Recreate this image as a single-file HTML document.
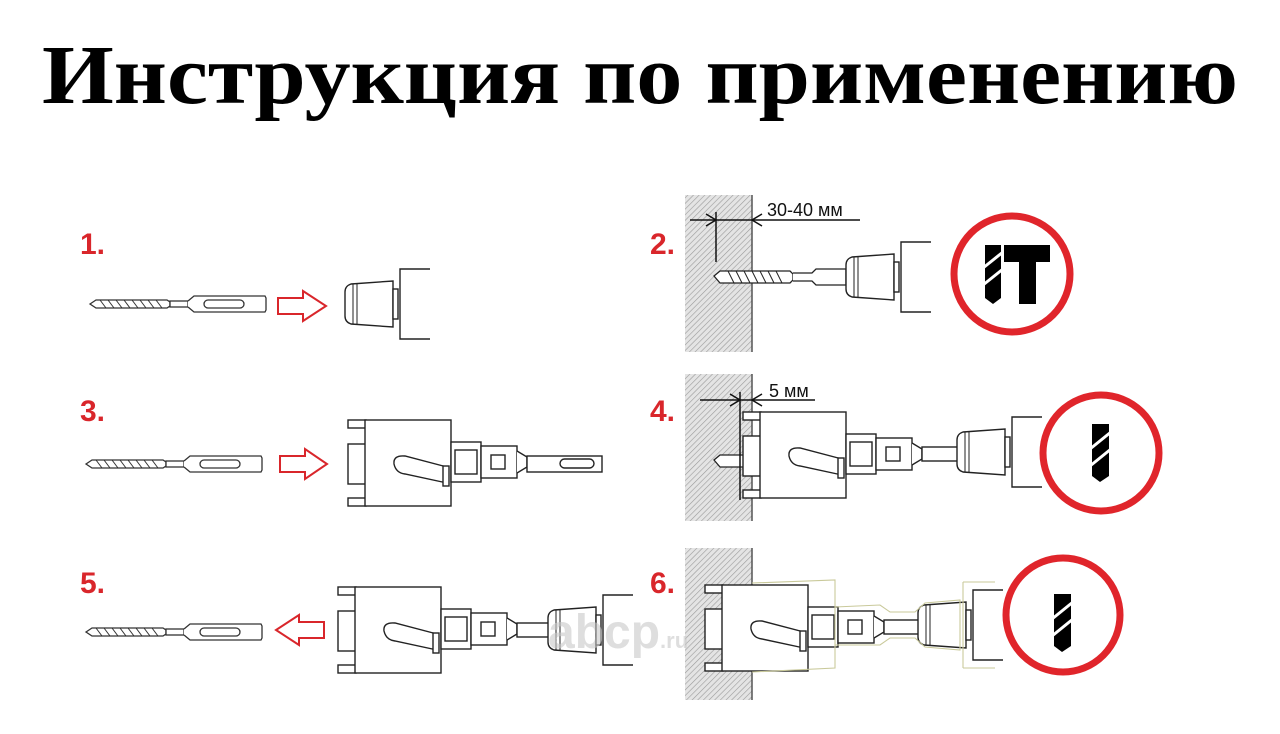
<!DOCTYPE html>
<html><head><meta charset="utf-8"><style>
html,body{margin:0;padding:0;background:#fff;width:1280px;height:734px;overflow:hidden}
</style></head><body>
<svg width="1280" height="734" viewBox="0 0 1280 734" xmlns="http://www.w3.org/2000/svg">
<defs>
<pattern id="h" width="4" height="4" patternUnits="userSpaceOnUse" patternTransform="rotate(45)">
<rect width="4" height="4" fill="#e4e4e4"/><line x1="0" y1="0" x2="0" y2="4" stroke="#9a9a9a" stroke-width="1.2"/>
</pattern>
<g id="drill" fill="#fff" stroke="#333" stroke-width="1.3">
<path d="M0,0 L6,-4 L77,-4 L80,-2 L80,2 L77,4 L6,4 Z"/>
<path d="M10,-4 L16,4 M18,-4 L24,4 M26,-4 L32,4 M34,-4 L40,4 M42,-4 L48,4 M50,-4 L56,4 M58,-4 L64,4 M66,-4 L72,4" stroke-width="1"/>
<rect x="80" y="-3" width="18" height="6"/>
<path d="M98,-3 L104,-8 L175,-8 L176,-6 L176,6 L175,8 L104,8 L98,3"/>
<rect x="114" y="-4" width="40" height="8" rx="4"/>
</g>
<g id="chuck" fill="#fff" stroke="#222" stroke-width="1.4">
<path d="M6,-20 L48,-23 L48,23 L6,20 Q0,18 0,12 L0,-12 Q0,-18 6,-20 Z"/>
<path d="M8,-20 L8,20 M12,-21 L12,21" stroke-width="1"/>
<rect x="48" y="-15" width="5" height="30"/>
<path d="M85,-35 L55,-35 L55,35 L85,35"/>
</g>
<g id="crown" fill="#fff" stroke="#222" stroke-width="1.4">
<rect x="-17" y="0" width="18" height="8"/>
<rect x="-17" y="78" width="18" height="8"/>
<rect x="-17" y="24" width="18" height="40"/>
<rect x="0" y="0" width="86" height="86"/>
<path d="M82,47 L40,36 Q28,35 29,44 Q31,53 40,54 L82,63"/>
<rect x="78" y="46" width="6" height="20"/>
<rect x="86" y="22" width="30" height="40"/>
<rect x="90" y="30" width="22" height="24"/>
<rect x="116" y="26" width="36" height="32"/>
<rect x="126" y="35" width="14" height="14"/>
<path d="M152,31 L162,37 L162,47 L152,53"/>
</g>
</defs>

<text x="640" y="103" text-anchor="middle" font-family="Liberation Serif, serif" font-weight="bold" font-size="84" textLength="1196" lengthAdjust="spacingAndGlyphs">Инструкция по применению</text>

<g font-family="Liberation Sans, sans-serif" font-size="30" font-weight="bold" fill="#d9262b">
<text x="80" y="254">1.</text><text x="650" y="254">2.</text>
<text x="80" y="421">3.</text><text x="650" y="421">4.</text>
<text x="80" y="593">5.</text><text x="650" y="593">6.</text>
</g>

<g fill="#fff" stroke="#d9262b" stroke-width="2">
<path d="M278,298 L303,298 L303,291 L326,306 L303,321 L303,314 L278,314 Z"/>
<path d="M280,456 L305,456 L305,449 L327,464 L305,479 L305,472 L280,472 Z"/>
<path d="M324,622 L299,622 L299,615 L276,630 L299,645 L299,638 L324,638 Z"/>
</g>

<use href="#drill" x="90" y="304"/>
<use href="#chuck" x="345" y="304"/>
<use href="#drill" x="86" y="464"/>
<use href="#crown" x="365" y="420"/>
<g fill="#fff" stroke="#222" stroke-width="1.4">
<rect x="527" y="456" width="75" height="16"/>
<rect x="560" y="459" width="34" height="9" rx="4.5"/>
</g>
<use href="#drill" x="86" y="632"/>
<use href="#crown" x="355" y="587"/>
<g fill="#fff" stroke="#222" stroke-width="1.4"><rect x="517" y="623" width="32" height="14"/></g>
<use href="#chuck" x="548" y="630"/>

<rect x="685" y="195" width="67" height="157" fill="url(#h)"/>
<line x1="752" y1="195" x2="752" y2="352" stroke="#555" stroke-width="1.5"/>
<rect x="685" y="374" width="67" height="147" fill="url(#h)"/>
<line x1="752" y1="374" x2="752" y2="521" stroke="#555" stroke-width="1.5"/>
<rect x="685" y="548" width="67" height="152" fill="url(#h)"/>
<line x1="752" y1="548" x2="752" y2="700" stroke="#555" stroke-width="1.5"/>

<g fill="#fff" stroke="#222" stroke-width="1.3">
<path d="M714,276 L720,271 L790,271 L793,274 L793,280 L790,283 L720,283 Z"/>
<path d="M728,271 L734,283 M736,271 L742,283 M744,271 L750,283 M752,271 L758,283 M760,271 L766,283 M768,271 L774,283 M776,271 L782,283" stroke-width="1"/>
<path d="M793,273 L812,273 L816,269 L846,269 L846,285 L816,285 L812,281 L793,281"/>
</g>
<use href="#chuck" x="846" y="277"/>
<g stroke="#111" stroke-width="1.5" fill="none">
<line x1="716" y1="212" x2="716" y2="262"/>
<line x1="690" y1="220" x2="860" y2="220"/>
<path d="M706,214 L716,220 L706,226 M762,214 L752,220 L762,226"/>
</g>
<text x="767" y="216" font-family="Liberation Sans, sans-serif" font-size="18" fill="#111">30-40 мм</text>

<g fill="#fff" stroke="#222" stroke-width="1.3">
<path d="M714,460 L720,455 L745,455 L745,467 L720,467 Z"/>
</g>
<use href="#crown" x="760" y="412"/>
<g fill="#fff" stroke="#222" stroke-width="1.4"><rect x="922" y="447" width="36" height="14"/></g>
<use href="#chuck" x="957" y="452"/>
<g stroke="#111" stroke-width="1.5" fill="none">
<line x1="740" y1="392" x2="740" y2="500"/>
<line x1="700" y1="400" x2="815" y2="400"/>
<path d="M730,394 L740,400 L730,406 M762,394 L752,400 L762,406"/>
</g>
<text x="769" y="397" font-family="Liberation Sans, sans-serif" font-size="18" fill="#111">5 мм</text>

<use href="#crown" x="722" y="585"/>
<g fill="#fff" stroke="#222" stroke-width="1.4"><rect x="884" y="620" width="36" height="14"/></g>
<use href="#chuck" x="918" y="625"/>
<g fill="none" stroke="#c9c99a" stroke-width="1.1">
<path d="M752,583 L835,580 L835,668 L752,672"/>
<path d="M835,607 L880,605 L890,612 L915,612 L925,603 L960,600 L960,650 L925,647 L915,638 L890,638 L880,645 L835,645"/>
<path d="M963,582 L995,582 M963,668 L995,668 M963,582 L963,668"/>
</g>

<text x="548" y="648" font-family="Liberation Sans, sans-serif" font-weight="bold" font-size="48" fill="#c8c8c8" fill-opacity="0.6">abcp<tspan font-size="22">.ru</tspan></text>

<g fill="none" stroke="#e0252b" stroke-width="7">
<circle cx="1012" cy="274" r="58"/>
<circle cx="1101" cy="453" r="58"/>
<circle cx="1063" cy="615" r="57"/>
</g>
<g fill="#000">
<path d="M985,245 L1001,245 L1001,298 L993,304 L985,298 Z"/>
<path d="M1004,245 L1050,245 L1050,262 L1036,262 L1036,304 L1019,304 L1019,262 L1004,262 Z"/>
<path d="M1092,424 L1109,424 L1109,476 L1100,482 L1092,476 Z"/>
<path d="M1054,594 L1071,594 L1071,646 L1062,652 L1054,646 Z"/>
</g>
<g stroke="#fff" stroke-width="3">
<line x1="983" y1="268" x2="1003" y2="252"/><line x1="983" y1="285" x2="1003" y2="269"/>
<line x1="1090" y1="449" x2="1111" y2="432"/><line x1="1090" y1="466" x2="1111" y2="449"/>
<line x1="1052" y1="619" x2="1073" y2="602"/><line x1="1052" y1="636" x2="1073" y2="619"/>
</g>
</svg>
</body></html>
